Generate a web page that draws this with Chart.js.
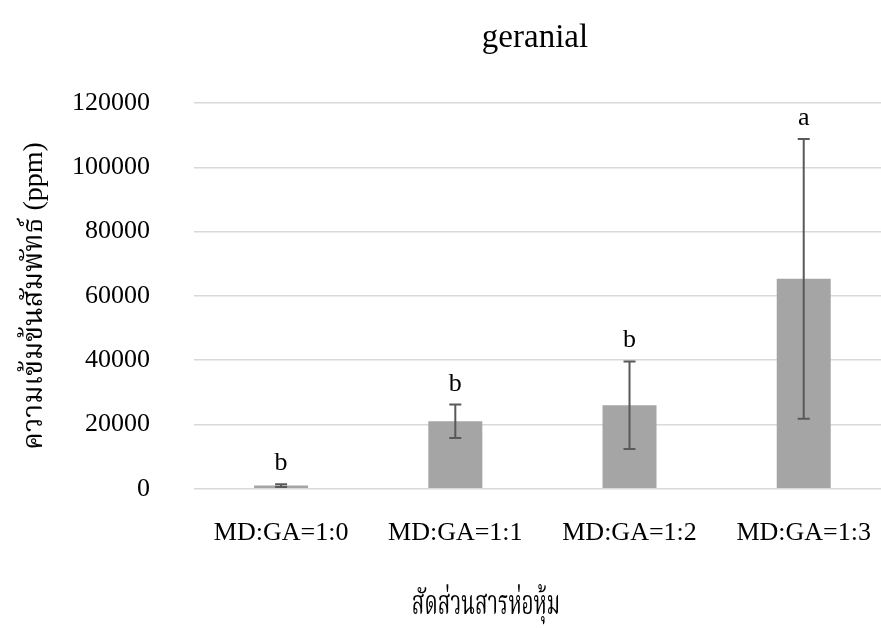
<!DOCTYPE html>
<html>
<head>
<meta charset="utf-8">
<script src="https://cdn.jsdelivr.net/npm/chart.js@4.4.0/dist/chart.umd.min.js"></script>
<style>
  html, body { margin: 0; padding: 0; background: #fff; overflow: hidden; }
  #wrap { width: 892px; height: 628px; }
</style>
</head>
<body>
<div id="wrap"><canvas id="chart" width="892" height="628"></canvas></div>
<script>
const categories = ['MD:GA=1:0', 'MD:GA=1:1', 'MD:GA=1:2', 'MD:GA=1:3'];
const means = [1000, 21000, 26000, 65300];
const errors = [450, 5200, 13600, 43500];
const letters = ['b', 'b', 'b', 'a'];
const yTicks = [0, 20000, 40000, 60000, 80000, 100000, 120000];

const FONT = "'Liberation Serif', 'Times New Roman', 'Noto Serif Thai', 'Noto Sans Thai', Loma, Garuda, serif";

// error bars, letters and the free-placed titles
const extras = {
  id: 'extras',
  afterDatasetsDraw(chart) {
    const ctx = chart.ctx;
    const y = chart.scales.y;
    const meta = chart.getDatasetMeta(0);
    ctx.save();
    meta.data.forEach((bar, i) => {
      const top = y.getPixelForValue(means[i] + errors[i]);
      const bot = y.getPixelForValue(means[i] - errors[i]);
      ctx.strokeStyle = '#595959';
      ctx.lineWidth = 2;
      ctx.beginPath();
      ctx.moveTo(bar.x, top); ctx.lineTo(bar.x, bot);
      ctx.moveTo(bar.x - 6, top); ctx.lineTo(bar.x + 6, top);
      ctx.moveTo(bar.x - 6, bot); ctx.lineTo(bar.x + 6, bot);
      ctx.stroke();
      ctx.fillStyle = '#000';
      ctx.font = '26px ' + FONT;
      ctx.textAlign = 'center';
      ctx.textBaseline = 'alphabetic';
      ctx.fillText(letters[i], bar.x, top - 14);
    });
    ctx.font = '33px ' + FONT;
    ctx.textAlign = 'center';
    ctx.textBaseline = 'middle';
    ctx.fillText('geranial', 535, 38);
    // x title, condensed like the original Thai face
    ctx.font = '33px ' + FONT;
    ctx.translate(486, 605);
    ctx.scale(0.63, 1);
    ctx.fillText('สัดส่วนสารห่อหุ้ม', 0, 0);
    ctx.restore();
  }
};

new Chart(document.getElementById('chart'), {
  type: 'bar',
  data: {
    labels: categories,
    datasets: [{
      data: means,
      backgroundColor: '#A5A5A5',
      borderWidth: 0,
      barPercentage: 0.31,
      categoryPercentage: 1
    }]
  },
  options: {
    responsive: false,
    animation: false,
    layout: { padding: { top: 103, bottom: 58, left: 0, right: 0 } },
    plugins: { legend: { display: false }, tooltip: { enabled: false }, title: { display: false } },
    scales: {
      x: {
        grid: { display: false },
        border: { display: false },
        ticks: { color: '#000', font: { family: FONT, size: 26 }, padding: 21, maxRotation: 0 }
      },
      y: {
        min: 0,
        max: 120000,
        afterBuildTicks: axis => { axis.ticks = yTicks.map(v => ({ value: v })); },
        afterFit: axis => { axis.width = 194; },
        grid: { color: '#D9D9D9', lineWidth: 1.5, drawTicks: false },
        border: { display: false },
        ticks: {
          color: '#000',
          font: { family: FONT, size: 26 },
          padding: 44,
          callback: v => String(v)
        },
        title: {
          display: true,
          text: 'ความเข้มข้นสัมพัทธ์ (ppm)',
          color: '#000',
          font: { family: FONT, size: 28 },
          padding: { top: 18, bottom: 10 }
        }
      }
    }
  },
  plugins: [extras]
});
</script>
</body>
</html>
